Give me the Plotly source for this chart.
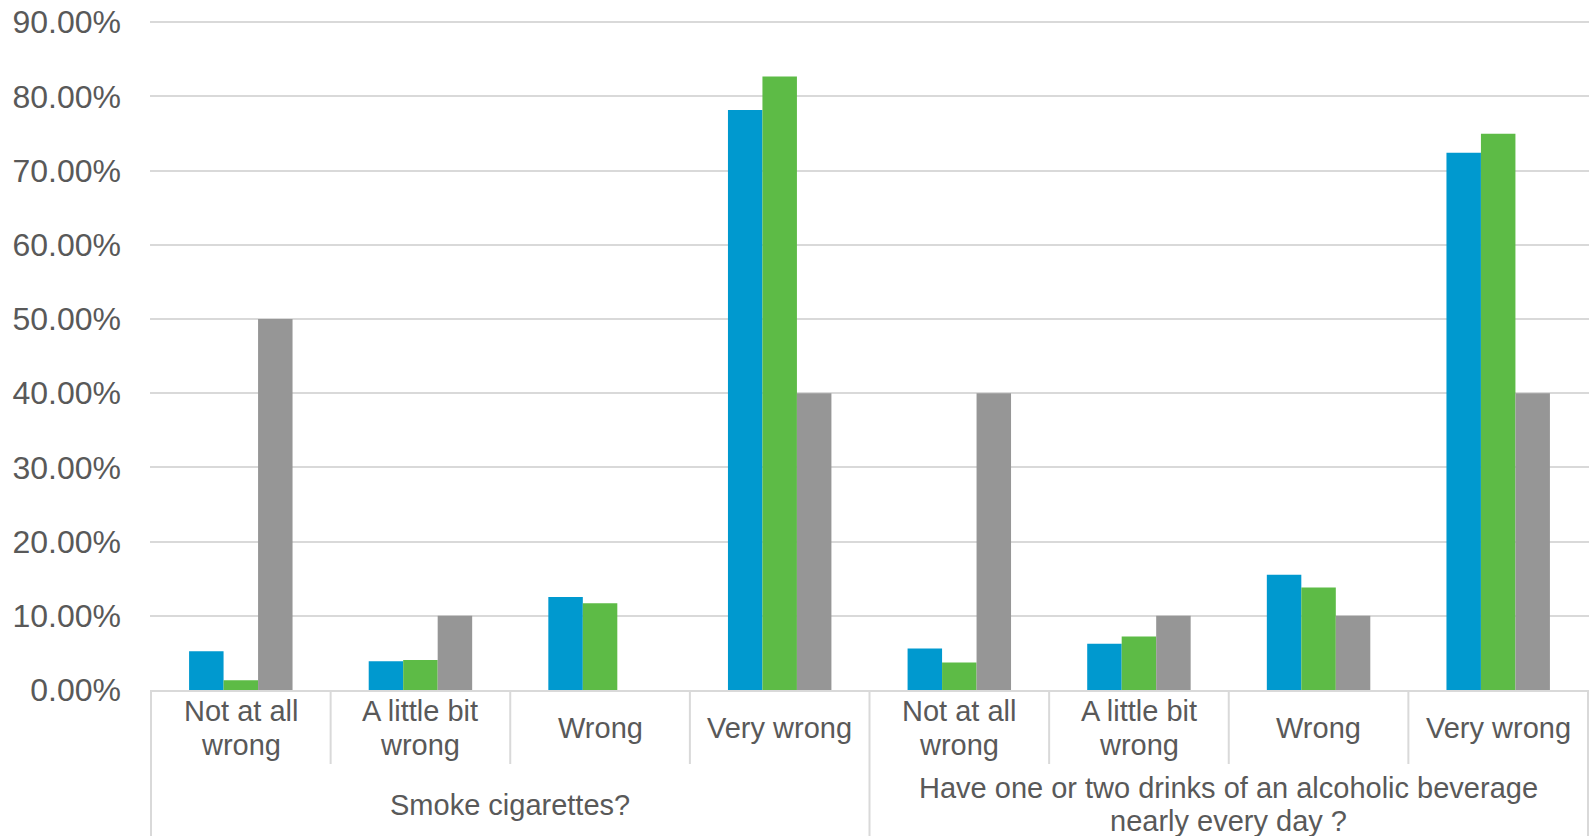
import plotly.graph_objects as go

groups = ["Smoke cigarettes?"] * 4 + ["Have one or two drinks of an alcoholic beverage<br>nearly every day ?"] * 4
categories = ["Not at all<br>wrong", "A little bit<br>wrong", "Wrong", "Very wrong"] * 2

series1 = [0.0523, 0.0388, 0.1253, 0.7816, 0.0558, 0.0622, 0.1554, 0.7239]
series2 = [0.0130, 0.0405, 0.1170, 0.8266, 0.0369, 0.0720, 0.1380, 0.7496]
series3 = [0.50, 0.10, 0.0, 0.40, 0.40, 0.10, 0.10, 0.40]

names = ["Series 1", "Series 2", "Series 3"]
colors = ["#0099CF", "#5DBB46", "#969696"]

FONT = "Arial, Liberation Sans, sans-serif"
TXT = "#595959"
GRID = "#D9D9D9"

W, H = 1593, 836
MT, MB = 21, 146
PH = H - MT - MB
AXIS_Y = H - MB


def py(p):
    """pixel row -> paper y"""
    return (AXIS_Y - p) / PH


fig = go.Figure()
for name, vals, col in zip(names, [series1, series2, series3], colors):
    fig.add_trace(go.Bar(
        x=[groups, categories], y=vals, name=name,
        marker=dict(color=col, line=dict(width=0)),
    ))

n = len(categories)
shapes = []
for i in range(n + 1):
    edge = i == 0 or i == n or groups[i - 1] != groups[i]
    bottom = H if edge else 764
    shapes.append(dict(type="line", xref="x", yref="paper",
                       x0=i - 0.5, x1=i - 0.5, y0=0, y1=py(bottom),
                       line=dict(color=GRID, width=2)))

annotations = []
LINE = 33.4
FS = 29
# inner category labels, one annotation per line
for i, cat in enumerate(categories):
    lines = cat.split("<br>")
    center = 728
    start = center - LINE * (len(lines) - 1) / 2
    for k, ln in enumerate(lines):
        annotations.append(dict(x=i, y=py(start + k * LINE), xref="x", yref="paper",
                                text=ln, showarrow=False, xanchor="center", yanchor="middle",
                                font=dict(family=FONT, size=FS, color=TXT)))
# group labels
seen = []
for g in groups:
    if g not in seen:
        seen.append(g)
for g in seen:
    idx = [i for i, gg in enumerate(groups) if gg == g]
    xc = sum(idx) / len(idx)
    lines = g.split("<br>")
    center = 804.5
    start = center - LINE * (len(lines) - 1) / 2
    for k, ln in enumerate(lines):
        annotations.append(dict(x=xc, y=py(start + k * LINE), xref="x", yref="paper",
                                text=ln, showarrow=False, xanchor="center", yanchor="middle",
                                font=dict(family=FONT, size=FS, color=TXT)))

fig.update_layout(
    width=W, height=H,
    margin=dict(l=150, r=4, t=MT, b=MB, autoexpand=False),
    paper_bgcolor="white", plot_bgcolor="white",
    barmode="group", bargap=0.424, bargroupgap=0,
    showlegend=False,
    font=dict(family=FONT, color=TXT, size=FS),
    shapes=shapes,
    annotations=annotations,
    xaxis=dict(
        type="multicategory", automargin=False,
        showline=True, linecolor=GRID, linewidth=2,
        showgrid=False, ticks="", showticklabels=False,
        showdividers=False,
    ),
    yaxis=dict(
        range=[0, 0.9015], tickvals=[i / 10 for i in range(10)], tickformat=".2%",
        automargin=False,
        showgrid=True, gridcolor=GRID, gridwidth=1.5,
        zeroline=False, showline=False, ticks="",
        ticklabelstandoff=28,
        tickfont=dict(family=FONT, color=TXT, size=32),
    ),
)

fig.write_html(
    "out.html",
    config={"displayModeBar": False},
    post_script="document.body.style.margin='0px';document.body.style.overflow='hidden';",
)
